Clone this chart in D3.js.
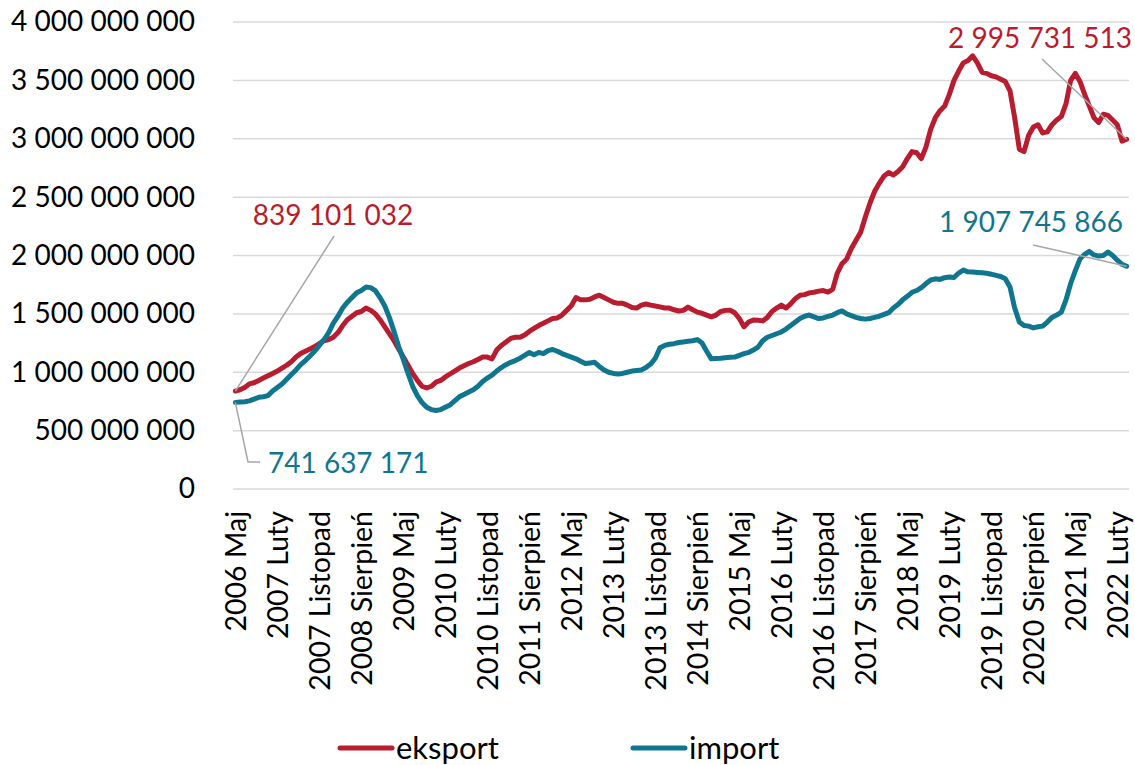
<!DOCTYPE html>
<html>
<head>
<meta charset="utf-8">
<script src="https://d3js.org/d3.v7.min.js"></script>
<style>
  body { margin: 0; background: #fff; }
  svg text { font-family: Lato, "Open Sans", sans-serif; }
</style>
</head>
<body>
<div id="chart"></div>
<script>
// month names used for the category axis
var monthNames = ["Styczeń", "Luty", "Marzec", "Kwiecień", "Maj", "Czerwiec",
                  "Lipiec", "Sierpień", "Wrzesień", "Październik", "Listopad", "Grudzień"];

// first category is 2006 Maj, 192 months up to 2022 Kwiecień
var startYear = 2006, startMonth = 4, nMonths = 192;

// values in billions (mld), one row per 12 months starting 2006 Maj
var eksport = [
  0.839, 0.85, 0.87, 0.90, 0.91, 0.93, 0.95, 0.97, 0.99, 1.01, 1.035, 1.06,
  1.09, 1.13, 1.16, 1.18, 1.20, 1.22, 1.245, 1.27, 1.28, 1.30, 1.34, 1.40,
  1.45, 1.48, 1.51, 1.52, 1.55, 1.53, 1.50, 1.45, 1.39, 1.33, 1.27, 1.20,
  1.13, 1.06, 0.99, 0.93, 0.88, 0.865, 0.88, 0.915, 0.93, 0.96, 0.985, 1.01,
  1.036, 1.055, 1.075, 1.09, 1.11, 1.13, 1.13, 1.115, 1.19, 1.23, 1.26, 1.29,
  1.30, 1.30, 1.32, 1.35, 1.375, 1.40, 1.42, 1.44, 1.46, 1.465, 1.49, 1.53,
  1.57, 1.64, 1.62, 1.62, 1.625, 1.645, 1.66, 1.64, 1.62, 1.60, 1.59, 1.59,
  1.575, 1.555, 1.55, 1.575, 1.585, 1.575, 1.567, 1.56, 1.55, 1.55, 1.535, 1.525,
  1.53, 1.558, 1.535, 1.515, 1.505, 1.49, 1.475, 1.49, 1.52, 1.53, 1.532, 1.51,
  1.46, 1.39, 1.43, 1.447, 1.445, 1.44, 1.47, 1.52, 1.55, 1.575, 1.55, 1.585,
  1.63, 1.66, 1.665, 1.68, 1.685, 1.695, 1.70, 1.687, 1.71, 1.85, 1.93, 1.97,
  2.06, 2.13, 2.20, 2.33, 2.45, 2.55, 2.62, 2.68, 2.71, 2.69, 2.72, 2.76,
  2.83, 2.89, 2.88, 2.83, 2.93, 3.08, 3.18, 3.24, 3.28, 3.38, 3.50, 3.58,
  3.65, 3.67, 3.71, 3.65, 3.57, 3.56, 3.54, 3.53, 3.51, 3.49, 3.41, 3.18,
  2.91, 2.89, 3.03, 3.10, 3.12, 3.05, 3.06, 3.12, 3.16, 3.19, 3.30, 3.50,
  3.56, 3.49, 3.38, 3.28, 3.18, 3.14, 3.21, 3.20, 3.16, 3.12, 2.98, 2.996
];

var importVals = [
  0.742, 0.745, 0.748, 0.755, 0.77, 0.785, 0.79, 0.80, 0.84, 0.87, 0.90, 0.94,
  0.98, 1.02, 1.065, 1.10, 1.14, 1.18, 1.23, 1.28, 1.34, 1.42, 1.48, 1.55,
  1.60, 1.64, 1.68, 1.70, 1.73, 1.725, 1.70, 1.64, 1.57, 1.47, 1.35, 1.22,
  1.11, 0.99, 0.88, 0.80, 0.74, 0.70, 0.68, 0.672, 0.68, 0.70, 0.72, 0.755,
  0.79, 0.81, 0.83, 0.85, 0.88, 0.92, 0.95, 0.975, 1.01, 1.04, 1.065, 1.085,
  1.10, 1.12, 1.145, 1.17, 1.15, 1.17, 1.16, 1.185, 1.195, 1.18, 1.16, 1.145,
  1.13, 1.115, 1.095, 1.075, 1.08, 1.085, 1.05, 1.02, 1.00, 0.99, 0.985, 0.99,
  1.00, 1.01, 1.015, 1.02, 1.04, 1.07, 1.12, 1.21, 1.23, 1.24, 1.245, 1.255,
  1.26, 1.265, 1.27, 1.28, 1.25, 1.18, 1.115, 1.118, 1.12, 1.125, 1.128, 1.13,
  1.145, 1.16, 1.17, 1.19, 1.215, 1.27, 1.30, 1.315, 1.33, 1.345, 1.37, 1.40,
  1.43, 1.46, 1.48, 1.49, 1.475, 1.46, 1.465, 1.478, 1.49, 1.51, 1.525, 1.50,
  1.485, 1.47, 1.46, 1.455, 1.46, 1.47, 1.48, 1.495, 1.51, 1.55, 1.58, 1.62,
  1.65, 1.685, 1.70, 1.725, 1.76, 1.79, 1.80, 1.795, 1.81, 1.815, 1.812, 1.85,
  1.875, 1.86, 1.858, 1.855, 1.852, 1.848, 1.84, 1.83, 1.82, 1.80, 1.73, 1.55,
  1.43, 1.40, 1.395, 1.38, 1.39, 1.395, 1.43, 1.47, 1.49, 1.515, 1.62, 1.76,
  1.87, 1.97, 2.01, 2.035, 2.005, 1.995, 2.00, 2.03, 2.00, 1.96, 1.925, 1.908
];

var yTicks = [0, 0.5, 1, 1.5, 2, 2.5, 3, 3.5, 4];
var yTickLabels = ["0", "500 000 000", "1 000 000 000", "1 500 000 000", "2 000 000 000",
                   "2 500 000 000", "3 000 000 000", "3 500 000 000", "4 000 000 000"];
var tickEvery = 9;

var seriesNames = ["eksport", "import"];
var seriesColors = ["#B81C2E", "#10768F"];

// first / last point labels
var firstLabels = ["839 101 032", "741 637 171"];
var lastLabels = ["2 995 731 513", "1 907 745 866"];

// categories
var categories = [];
for (var i = 0; i < nMonths; i++) {
  var m = startMonth + i;
  categories.push((startYear + Math.floor(m / 12)) + " " + monthNames[m % 12]);
}

var width = 1135, height = 765;
var margin = {top: 22, right: 6, bottom: 276, left: 233};
var innerW = width - margin.left - margin.right;
var innerH = height - margin.top - margin.bottom;

var svg = d3.select("#chart")
  .append("svg")
    .attr("width", width)
    .attr("height", height);

var g = svg.append("g")
    .attr("transform", "translate(" + margin.left + "," + margin.top + ")");

// X scale (points in the middle of each category)
var x = d3.scalePoint()
  .domain(d3.range(nMonths))
  .range([0, innerW])
  .padding(0.5);

// Y scale
var y = d3.scaleLinear()
  .domain([0, 4])
  .range([innerH, 0]);

// gridlines
g.append("g")
  .selectAll("line")
  .data(yTicks)
  .enter()
  .append("line")
    .attr("x1", 0)
    .attr("x2", innerW)
    .attr("y1", function(d) { return y(d); })
    .attr("y2", function(d) { return y(d); })
    .attr("stroke", "#D9D9D9")
    .attr("stroke-width", 1.5);

// Y axis labels
var yAxis = d3.axisLeft(y)
  .tickValues(yTicks)
  .tickSize(0)
  .tickPadding(38)
  .tickFormat(function(d, i) { return yTickLabels[i]; });
var yg = g.append("g").call(yAxis);
yg.select(".domain").remove();
yg.selectAll("text")
  .attr("fill", "#000")
  .style("font-size", "28px");

// X axis labels
var xAxis = d3.axisBottom(x)
  .tickValues(d3.range(0, nMonths, tickEvery))
  .tickSize(0)
  .tickFormat(function(d) { return categories[d]; });
var xg = g.append("g")
  .attr("transform", "translate(0," + innerH + ")")
  .call(xAxis);
xg.select(".domain").remove();
xg.selectAll("text")
  .attr("fill", "#000")
  .style("font-size", "28.5px")
  .attr("text-anchor", "end")
  .attr("transform", "rotate(-90)")
  .attr("x", -22)
  .attr("y", 0)
  .attr("dx", 0)
  .attr("dy", "0.36em");

// lines
var allSeries = [eksport, importVals];
var line = d3.line()
  .x(function(d, i) { return x(i); })
  .y(function(d) { return y(d); });

allSeries.forEach(function(s, k) {
  g.append("path")
    .datum(s)
    .attr("fill", "none")
    .attr("stroke", seriesColors[k])
    .attr("stroke-width", 5)
    .attr("stroke-linejoin", "round")
    .attr("stroke-linecap", "round")
    .attr("d", line);
});

// data labels with leader lines
var last = nMonths - 1;
var lead = g.append("g")
  .attr("fill", "none")
  .attr("stroke", "#A6A6A6")
  .attr("stroke-width", 1.5);

// eksport first
lead.append("path")
  .attr("d", d3.line()([[x(0), y(eksport[0])], [101, 214]]));
g.append("text")
  .attr("x", 100).attr("y", 203)
  .attr("text-anchor", "middle")
  .attr("fill", seriesColors[0])
  .style("font-size", "28px")
  .text(firstLabels[0]);

// import first
lead.append("path")
  .attr("d", d3.line()([[x(0), y(importVals[0])], [15, 440], [27, 440]]));
g.append("text")
  .attr("x", 35).attr("y", 451)
  .attr("fill", seriesColors[1])
  .style("font-size", "28px")
  .text(firstLabels[1]);

// eksport last
lead.append("path")
  .attr("d", d3.line()([[x(last), y(eksport[last])], [809, 37]]));
g.append("text")
  .attr("x", 899).attr("y", 26)
  .attr("text-anchor", "end")
  .attr("fill", seriesColors[0])
  .style("font-size", "28px")
  .text(lastLabels[0]);

// import last
lead.append("path")
  .attr("d", d3.line()([[x(last), y(importVals[last])], [800, 223]]));
g.append("text")
  .attr("x", 890).attr("y", 210)
  .attr("text-anchor", "end")
  .attr("fill", seriesColors[1])
  .style("font-size", "28px")
  .text(lastLabels[1]);

// legend
var legendX = [340, 633];
var legend = svg.append("g");
seriesNames.forEach(function(name, k) {
  legend.append("line")
    .attr("x1", legendX[k]).attr("x2", legendX[k] + 52)
    .attr("y1", 748).attr("y2", 748)
    .attr("stroke", seriesColors[k])
    .attr("stroke-width", 5)
    .attr("stroke-linecap", "round");
  legend.append("text")
    .attr("x", legendX[k] + 56)
    .attr("y", 759)
    .attr("fill", "#000")
    .style("font-size", "31px")
    .text(name);
});
</script>
</body>
</html>
